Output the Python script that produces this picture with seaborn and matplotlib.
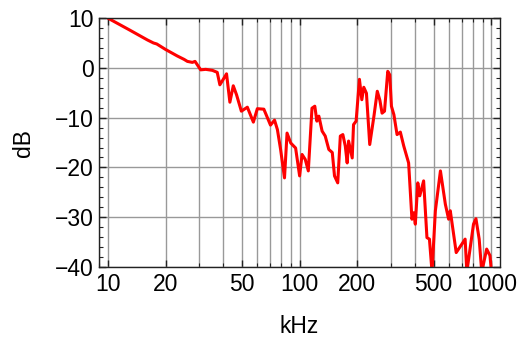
import numpy as np
import pandas as pd
import matplotlib
matplotlib.use("Agg")
import matplotlib.pyplot as plt
import matplotlib.ticker as mticker
import seaborn as sns

# spectrum
freq_khz = [10, 13.0, 16.1, 17.3, 18.0, 20, 23.0, 25.0, 26.0, 27.6, 28.5,
            30.5, 32.4, 35.1, 37.2, 38.4, 40.0, 41.6,
            43.3, 45.1, 46.9, 49.7, 53.4, 57.4, 60.2, 65.1, 70.5, 74.0, 76.6,
            79.6, 83.4, 86.0, 89.9, 95.3, 100, 103, 107, 111, 116, 120, 123,
            126, 131, 136, 142, 148, 152, 158, 163, 168, 173, 177, 180, 188,
            191, 197, 205, 211, 216, 223, 232, 244, 254, 262, 269, 277, 288,
            295, 301, 310, 322, 335, 349, 370, 385, 393, 401, 413, 423, 443,
            461, 475, 490, 510, 542, 575, 598, 610, 655, 701, 729, 744, 806,
            830, 863, 890, 944, 982, 1000]
level_db = [10.0, 7.6, 5.6, 5.0, 4.8, 3.7, 2.4, 1.7, 1.3, 1.1, 1.3,
            -0.4, -0.3, -0.5, -0.9, -3.4, -2.3, -1.2,
            -6.9, -3.6, -5.4, -8.7, -7.9, -10.9, -8.2, -8.3, -11.5, -10.5, -12.4,
            -16.4, -22.1, -13.1, -15.1, -16.1, -21.7, -17.4, -18.4, -20.7, -8.1,
            -7.7, -10.7, -9.7, -12.7, -13.7, -16.4, -17.0, -21.7, -23.1, -13.7,
            -13.4, -15.7, -19.1, -14.7, -18.1, -11.4, -10.7, -2.3, -6.4, -3.9,
            -5.1, -15.4, -9.7, -4.7, -6.5, -9.1, -8.7, -0.7, -1.4, -7.7, -9.4,
            -13.4, -12.9, -15.7, -19.1, -30.4, -29.1, -31.4, -23.1, -25.7, -22.7,
            -34.1, -34.4, -41.0, -28.7, -20.7, -27.4, -30.4, -28.7, -37.1, -35.4,
            -34.4, -41.0, -31.4, -30.3, -34.4, -41.0, -36.4, -37.7, -41.0]

x_ticks = [10, 20, 50, 100, 200, 500, 1000]
y_ticks = [10, 0, -10, -20, -30, -40]

df = pd.DataFrame({"kHz": freq_khz, "dB": level_db})

sns.set_style("ticks")
plt.rcParams['font.family'] = ['Liberation Sans', 'DejaVu Sans']
plt.rcParams['font.size'] = 16.5
plt.rcParams['text.color'] = 'black'
plt.rcParams['axes.labelcolor'] = 'black'
plt.rcParams['xtick.color'] = 'black'
plt.rcParams['ytick.color'] = 'black'

fig = plt.figure(figsize=(5.21, 3.41), dpi=100)
ax = fig.add_axes([0.190, 0.217, 0.770, 0.730])

sns.lineplot(data=df, x="kHz", y="dB", color="#ff0000", linewidth=2.2, ax=ax)

ax.set_xscale("log")
ax.set_xlim(9.0, 1110)
ax.set_ylim(-40, 10)

ax.set_xticks(x_ticks)
ax.xaxis.set_major_formatter(mticker.FuncFormatter(lambda v, p: f"{v:g}"))
ax.xaxis.set_minor_locator(mticker.LogLocator(base=10, subs=np.arange(2, 10)))
ax.xaxis.set_minor_formatter(mticker.NullFormatter())
ax.set_yticks(y_ticks)
ax.yaxis.set_minor_locator(mticker.MultipleLocator(2))

ax.grid(True, which="major", color="#999999", linewidth=1)
ax.grid(True, which="minor", axis="x", color="#999999", linewidth=1)

ax.tick_params(which="both", direction="in", top=True, right=True, color="#222222")
ax.tick_params(which="major", length=5, width=1, labelsize=16.5, pad=4)
ax.tick_params(which="minor", length=3, width=0.8)
for s in ax.spines.values():
    s.set_color("#222222")
    s.set_linewidth(1)

ax.set_xlabel("kHz", fontsize=16.5, labelpad=14)
ax.set_ylabel("dB", fontsize=16.5, labelpad=14)

fig.savefig("out.png", dpi=100)
